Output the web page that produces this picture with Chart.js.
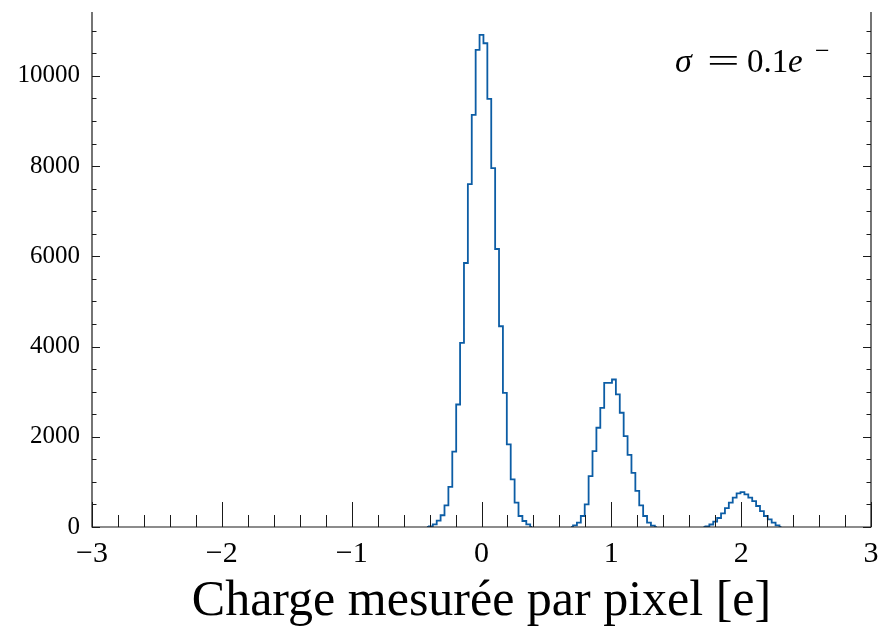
<!DOCTYPE html>
<html>
<head>
<meta charset="utf-8">
<script src="https://cdn.jsdelivr.net/npm/chart.js@4.4.1/dist/chart.umd.min.js"></script>
<style>
  html, body { margin: 0; padding: 0; background: #ffffff; }
  #wrap { width: 882px; height: 628px; position: relative; }
</style>
</head>
<body>
<div id="wrap"><canvas id="c" width="882" height="628"></canvas></div>
<script>
// ---------- DATA ----------
// bin centres (bin width 0.03) and counts for the three peaks
const peak0Centers = [-0.42,-0.39,-0.36,-0.33,-0.30,-0.27,-0.24,-0.21,-0.18,-0.15,-0.12,-0.09,-0.06,-0.03,0.00,0.03,0.06,0.09,0.12,0.15,0.18,0.21,0.24,0.27,0.30,0.33,0.36,0.39];
const peak0Counts  = [0,15,60,140,260,480,890,1670,2716,4082,5853,7602,9137,10576,10908,10724,9491,7958,6163,4450,2975,1831,1056,540,244,133,60,0];

const peak1Centers = [0.69,0.72,0.75,0.78,0.81,0.84,0.87,0.90,0.93,0.96,0.99,1.02,1.05,1.08,1.11,1.14,1.17,1.20,1.23,1.26,1.29,1.32,1.35];
const peak1Counts  = [0,38,97,244,500,1129,1683,2200,2643,3197,3197,3270,2938,2533,2015,1600,1200,800,480,244,97,30,0];

const peak2Centers = [1.71,1.74,1.77,1.80,1.83,1.86,1.89,1.92,1.95,1.98,2.01,2.04,2.07,2.10,2.13,2.16,2.19,2.22,2.25,2.28,2.31];
const peak2Counts  = [0,15,55,120,200,300,420,540,650,746,775,724,650,575,465,354,244,170,97,38,0];

const xTickValues = [-3,-2,-1,0,1,2,3];
const yTickValues = [0,2000,4000,6000,8000,10000];
const xLabel = 'Charge mesurée par pixel [e]';
const xMinorStep = 0.2;
const yMinorStep = 500;
const xRange = [-3, 3];
const yRange = [0, 11417];

// ---------- STYLE ----------
const LINE = '#0C5DA5';
const INK = '#1a1a1a';
const SERIF = '"Liberation Serif", "DejaVu Serif", serif';

function toXY(cs, vs) { return cs.map((c, i) => ({ x: c, y: vs[i] })); }
function ds(cs, vs) {
  return { data: toXY(cs, vs), borderColor: LINE, borderWidth: 1.8, pointRadius: 0,
           stepped: 'middle', fill: false, tension: 0, borderJoinStyle: 'miter' };
}

const frame = {
  id: 'frame',
  afterDatasetsDraw(chart) {
    const { ctx, chartArea: a, scales: { x, y } } = chart;
    ctx.save();
    ctx.strokeStyle = INK;
    ctx.lineWidth = 1.2;
    ctx.beginPath();
    ctx.moveTo(a.left, a.top); ctx.lineTo(a.left, a.bottom);
    ctx.lineTo(a.right, a.bottom); ctx.lineTo(a.right, a.top);
    ctx.stroke();
    ctx.lineWidth = 1;
    ctx.beginPath();
    const nx = Math.round((xRange[1] - xRange[0]) / xMinorStep);
    for (let i = 0; i <= nx; i++) {
      const v = xRange[0] + i * xMinorStep;
      const major = xTickValues.some(t => Math.abs(t - v) < 1e-6);
      const px = Math.round(x.getPixelForValue(v)) + 0.5;
      const len = major ? 25 : 12;
      ctx.moveTo(px, a.bottom); ctx.lineTo(px, a.bottom - len);
    }
    for (let v = yRange[0]; v <= yRange[1]; v += yMinorStep) {
      const major = yTickValues.includes(v);
      const py = Math.round(y.getPixelForValue(v)) + 0.5;
      const len = major ? 8 : 4.5;
      ctx.moveTo(a.left, py); ctx.lineTo(a.left + len, py);
      ctx.moveTo(a.right, py); ctx.lineTo(a.right - len, py);
    }
    ctx.stroke();
    ctx.restore();
  }
};

const annot = {
  id: 'annot',
  afterDraw(chart) {
    const { ctx, chartArea: a } = chart;
    ctx.save();
    ctx.fillStyle = '#000';
    ctx.textBaseline = 'alphabetic';
    const base = a.top + 60;
    const x0 = a.right - 196;
    ctx.font = 'italic 34px ' + SERIF;
    ctx.fillText('σ', x0, base);
    ctx.font = '33px ' + SERIF;
    ctx.save();
    ctx.translate(x0 + 32, base);
    ctx.scale(1.75, 1);
    ctx.fillText('=', 0, 0);
    ctx.restore();
    ctx.fillText('0.1', x0 + 72, base);
    ctx.font = 'italic 33px ' + SERIF;
    ctx.fillText('e', x0 + 113, base);
    ctx.font = '26px ' + SERIF;
    ctx.fillText('\u2212', x0 + 140, base - 13);
    ctx.restore();
  }
};

new Chart(document.getElementById('c'), {
  type: 'line',
  data: { datasets: [ds(peak0Centers, peak0Counts), ds(peak1Centers, peak1Counts), ds(peak2Centers, peak2Counts)] },
  options: {
    responsive: false,
    animation: false,
    devicePixelRatio: 1,
    layout: { padding: { left: 0, right: 11, top: 12, bottom: 0 } },
    plugins: { legend: { display: false }, tooltip: { enabled: false } },
    scales: {
      x: {
        type: 'linear', min: xRange[0], max: xRange[1],
        grid: { display: false }, border: { display: false },
        afterBuildTicks: (s) => { s.ticks = xTickValues.map(v => ({ value: v })); },
        afterFit: (s) => { s.height = 101; s.paddingLeft = 0; s.paddingRight = 0; },
        ticks: {
          color: '#000', padding: 1, maxRotation: 0,
          font: { family: SERIF, size: 30 },
          callback: (v) => (v < 0 ? '\u2212' + Math.abs(v) : String(v))
        },
        title: { display: true, text: xLabel, color: '#000', padding: { top: 0, bottom: -4 },
                 font: { family: SERIF, size: 50 } }
      },
      y: {
        type: 'linear', min: yRange[0], max: yRange[1],
        grid: { display: false }, border: { display: false },
        afterBuildTicks: (s) => { s.ticks = yTickValues.map(v => ({ value: v })); },
        afterFit: (s) => { s.width = 92; s.paddingTop = 0; s.paddingBottom = 0; },
        ticks: { color: '#000', padding: 4, font: { family: SERIF, size: 25 },
                 callback: (v) => String(v) }
      }
    }
  },
  plugins: [frame, annot]
});
</script>
</body>
</html>
